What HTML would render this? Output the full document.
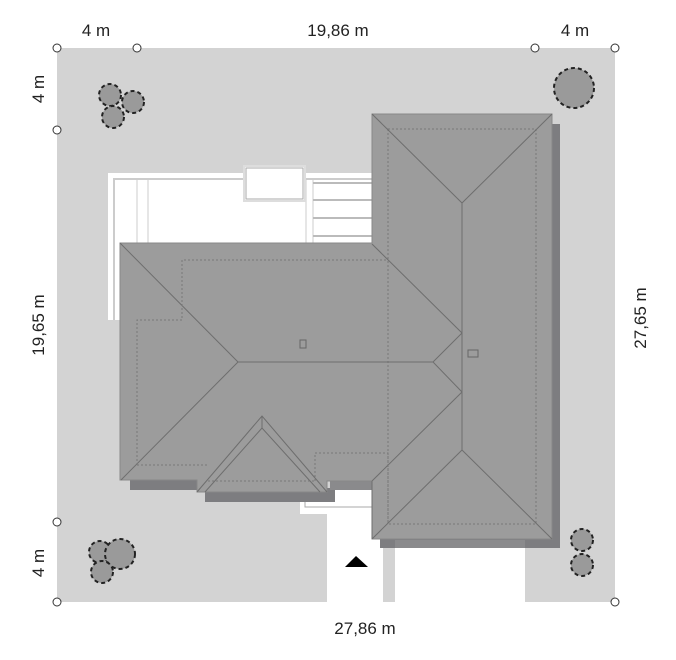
<!DOCTYPE html>
<html><head><meta charset="utf-8"><style>
html,body{margin:0;padding:0;background:#fff;}
svg{display:block;}
text{font-family:"Liberation Sans",sans-serif;font-size:17px;fill:#222;}
</style></head><body>
<svg width="676" height="660" viewBox="0 0 676 660" xmlns="http://www.w3.org/2000/svg">
<rect x="57" y="48" width="558" height="554" fill="#d3d3d3"/>
<rect x="327" y="510" width="56" height="92" fill="#fff"/>
<rect x="395" y="540" width="130" height="62" fill="#fff"/>
<rect x="300" y="490" width="83" height="24" fill="#fff"/>
<polyline points="305,490 305,507 380,507" fill="none" stroke="#aaa"/>
<rect x="108" y="173" width="267" height="147" fill="#fff"/>
<polyline points="114,320 114,179 372,179" fill="none" stroke="#ccc" stroke-width="2"/>
<rect x="137" y="179" width="11" height="70" fill="none" stroke="#ccc"/>
<rect x="306" y="179" width="7" height="70" fill="none" stroke="#ccc"/>
<line x1="313" y1="183" x2="372" y2="183" stroke="#bbb" stroke-width="2"/>
<line x1="313" y1="200" x2="372" y2="200" stroke="#bbb" stroke-width="2"/>
<line x1="313" y1="218" x2="372" y2="218" stroke="#bbb" stroke-width="2"/>
<line x1="313" y1="236" x2="372" y2="236" stroke="#bbb" stroke-width="2"/>
<rect x="244" y="166" width="61" height="35" fill="#fff" stroke="#ddd" stroke-width="2"/>
<rect x="246" y="168" width="57" height="31" fill="#fff" stroke="#aaa"/>
<rect x="130" y="478" width="70" height="12" fill="#7d7d80"/>
<rect x="205" y="488" width="130" height="14" fill="#7d7d80"/>
<rect x="330" y="478" width="50" height="12" fill="#8a8a8c"/>
<rect x="380" y="124" width="180" height="424" fill="#7d7d80"/>
<rect x="395" y="540" width="130" height="8" fill="#8a8a8c"/>
<rect x="372" y="114" width="180" height="425" fill="#9c9c9c" stroke="#888"/>
<g stroke="#777" stroke-width="1" fill="none" stroke-dasharray="2,2">
<rect x="388" y="129" width="148" height="395"/>
</g>
<polygon points="120,243 372,243 386,257 386,481 327,481 327,492 197,492 197,480 120,480" fill="#9c9c9c"/>
<polyline points="372,243 120,243 120,480 197,480 197,492 327,492 327,481 372,481" fill="none" stroke="#888"/>
<g stroke="#6e6e6e" stroke-width="1" fill="none">
<line x1="372" y1="114" x2="462" y2="203"/>
<line x1="552" y1="114" x2="462" y2="203"/>
<line x1="462" y1="203" x2="462" y2="450"/>
<line x1="462" y1="450" x2="372" y2="539"/>
<line x1="462" y1="450" x2="552" y2="539"/>
<line x1="372" y1="244" x2="462" y2="333"/>
<polyline points="462,333 433,362 462,392"/>
<line x1="462" y1="392" x2="372" y2="481"/>
<line x1="372" y1="481" x2="372" y2="539"/>
<line x1="238" y1="362" x2="433" y2="362"/>
<line x1="120" y1="243" x2="238" y2="362"/>
<line x1="238" y1="362" x2="121" y2="480"/>
<polyline points="197,492 262,416 327,492"/>
<polyline points="205,492 262,428 320,492"/>
<line x1="262" y1="416" x2="262" y2="428"/>
</g>
<g stroke="#777" stroke-width="1" fill="none" stroke-dasharray="2,2">
<polyline points="137,465 137,320 182,320 182,260 388,260"/>
<polyline points="137,465 208,465"/>
<polyline points="208,481 315,481"/>
<polyline points="315,481 315,453 388,453 388,524"/>
</g>
<rect x="300" y="340" width="6" height="8" fill="none" stroke="#666"/>
<rect x="468" y="350" width="10" height="7" fill="none" stroke="#666"/>
<g fill="#9a9a9a" stroke="#222" stroke-width="2" stroke-dasharray="4,3">
<circle cx="110" cy="95" r="11"/><circle cx="133" cy="102" r="11"/><circle cx="113" cy="117" r="11"/>
<circle cx="574" cy="88" r="20"/>
<circle cx="100" cy="552" r="11"/><circle cx="120" cy="554" r="15"/><circle cx="102" cy="572" r="11"/>
<circle cx="582" cy="540" r="11"/><circle cx="582" cy="565" r="11"/>
</g>
<g fill="#fff" stroke="#333" stroke-width="1">
<circle cx="57" cy="48" r="4"/><circle cx="137" cy="48" r="4"/><circle cx="535" cy="48" r="4"/><circle cx="615" cy="48" r="4"/>
<circle cx="57" cy="130" r="4"/><circle cx="57" cy="522" r="4"/><circle cx="57" cy="602" r="4"/><circle cx="615" cy="602" r="4"/>
</g>
<polygon points="345,567 368,567 356,556" fill="#000"/>
<text x="96" y="36" text-anchor="middle">4 m</text>
<text x="338" y="36" text-anchor="middle">19,86 m</text>
<text x="575" y="36" text-anchor="middle">4 m</text>
<text x="365" y="634" text-anchor="middle">27,86 m</text>
<text transform="translate(44,89) rotate(-90)" text-anchor="middle">4 m</text>
<text transform="translate(44,325) rotate(-90)" text-anchor="middle">19,65 m</text>
<text transform="translate(44,563) rotate(-90)" text-anchor="middle">4 m</text>
<text transform="translate(646,318) rotate(-90)" text-anchor="middle">27,65 m</text>
</svg>
</body></html>
